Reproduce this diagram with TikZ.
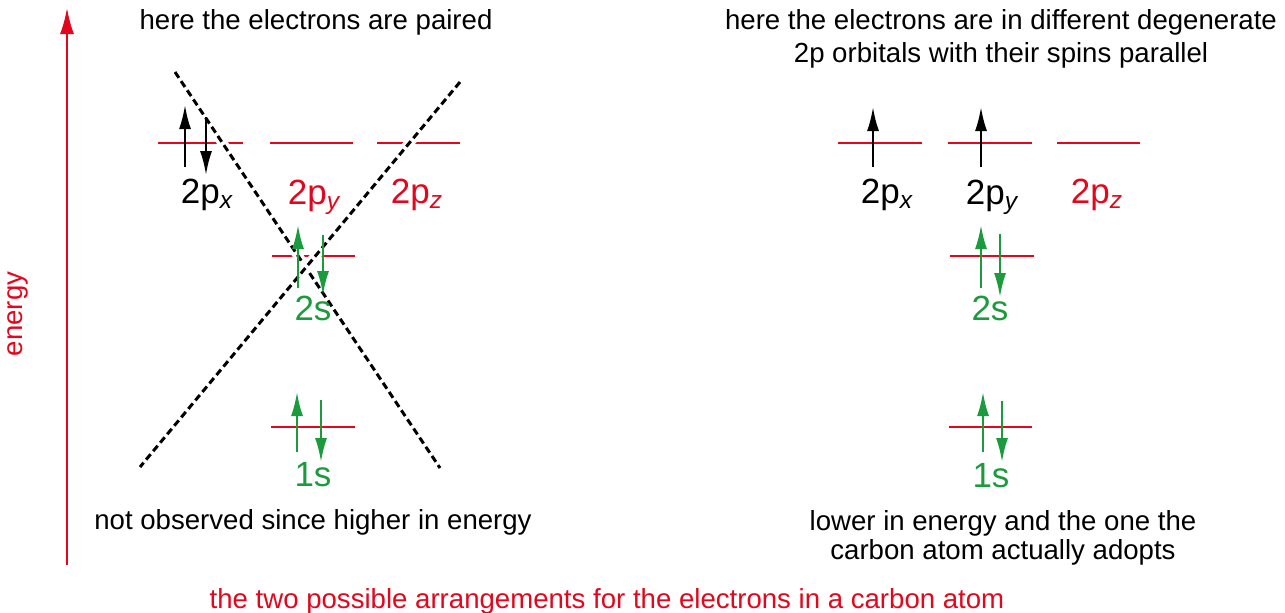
\documentclass[tikz,border=0pt]{standalone}
\usepackage{fontspec}
\setmainfont{Liberation Sans}
\usetikzlibrary{arrows.meta}
\definecolor{LevelRed} {HTML}{E2071C}
\definecolor{SpinGreen}{HTML}{1B9B3E}
\tikzset{
  every node/.style={font=\fontsize{13.8}{16.5}\selectfont, inner sep=0pt},
  % energy levels and electrons
  orbline/.style={LevelRed, line width=1pt},
  spin/.style={line width=1.1pt, -{Latex[length=12pt,width=6pt]}},
  gspin/.style={spin, SpinGreen},
  orb/.style={font=\fontsize{17.5}{20}\selectfont},
  cross/.style={line width=1.5pt, dash pattern=on 3.5pt off 2pt,
                preaction={draw=white, solid, line width=5pt}},
  note/.style={align=center},
  enaxis/.style={LevelRed, line width=1pt, -{Latex[length=13pt,width=7pt]}},
}

\begin{document}
\begin{tikzpicture}[x=0.5pt, y=-0.5pt]
\useasboundingbox (0,0) rectangle (1285,612);

% energy axis
\draw[enaxis] (67,565) -- (67,8);
\node[rotate=90, text=LevelRed] (energy) at (18,314) {energy};

% left: paired arrangement
\draw[orbline] (158,143) -- (243,143);
\draw[orbline] (270,143) -- (353,143);
\draw[orbline] (377,143) -- (460,143);
\draw[orbline] (272,256) -- (355,256);
\draw[orbline] (271,427) -- (355,427);

\draw[cross] (175,72) -- (440,468);
\draw[cross] (460,82) -- (140,467);

\draw[spin] (185,167) -- (185,105);
\draw[spin] (206,117) -- (206,175);
\draw[gspin] (298,288) -- (298,225);
\draw[gspin] (323,235) -- (323,295);
\draw[gspin] (297,452) -- (297,392);
\draw[gspin] (321,400) -- (321,462);

\node[orb] (lpx) at (207,195) {2p\textsubscript{\itshape x}};
\node[orb, text=LevelRed] (lpy) at (314,197) {2p\textsubscript{\itshape y}};
\node[orb, text=LevelRed] (lpz) at (417,195) {2p\textsubscript{\itshape z}};
\node[orb, text=SpinGreen] (ls2) at (313,308) {2s};
\node[orb, text=SpinGreen] (ls1) at (313,475) {1s};

\node (ltop) at (316,22) {here the electrons are paired};
\node (lbot) at (313,522) {not observed since higher in energy};

% right: parallel arrangement
\draw[orbline] (838,143) -- (922,143);
\draw[orbline] (948,143) -- (1032,143);
\draw[orbline] (1057,143) -- (1140,143);
\draw[orbline] (950,256) -- (1034,256);
\draw[orbline] (949,427) -- (1032,427);

\draw[spin] (873,167) -- (873,107);
\draw[spin] (981,167) -- (981,107);
\draw[gspin] (981,288) -- (981,225);
\draw[gspin] (1000,234) -- (1000,297);
\draw[gspin] (983,452) -- (983,392);
\draw[gspin] (1002,401) -- (1002,462);

\node[orb] (rpx) at (887,195) {2p\textsubscript{\itshape x}};
\node[orb] (rpy) at (992,197) {2p\textsubscript{\itshape y}};
\node[orb, text=LevelRed] (rpz) at (1097,195) {2p\textsubscript{\itshape z}};
\node[orb, text=SpinGreen] (rs2) at (990,308) {2s};
\node[orb, text=SpinGreen] (rs1) at (991,476) {1s};

\node[note] (rtop) at (1001,39) {here the electrons are in different degenerate\\
  2p orbitals with their spins parallel};
\node[note, font=\fontsize{13.8}{14.6}\selectfont] (rbot) at (1003,538)
  {lower in energy and the one the\\carbon atom actually adopts};

\node[text=LevelRed] (caption) at (607,601)
  {the two possible arrangements for the electrons in a carbon atom};

\end{tikzpicture}
\end{document}
